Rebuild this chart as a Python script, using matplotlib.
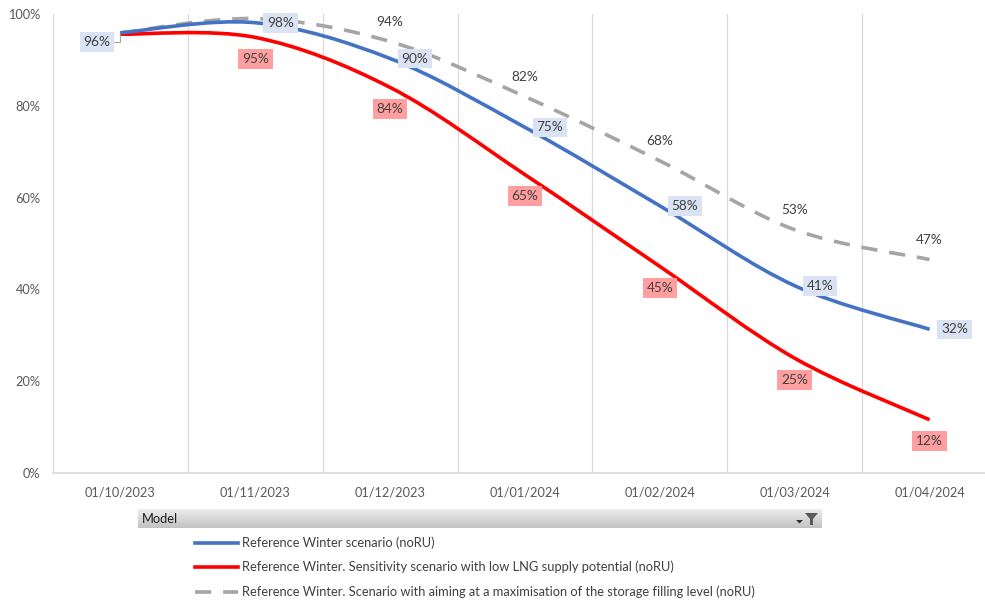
import numpy as np
import matplotlib
matplotlib.use("Agg")
import matplotlib.pyplot as plt
from matplotlib.path import Path
from matplotlib.patches import PathPatch, Polygon
from matplotlib.lines import Line2D

plt.rcParams['font.family'] = ['Lato', 'DejaVu Sans']

# data
dates = ["01/10/2023", "01/11/2023", "01/12/2023", "01/01/2024",
         "01/02/2024", "01/03/2024", "01/04/2024"]
blue_vals = [95.9, 98.1, 90.3, 75.3, 58.2, 40.8, 31.3]
red_vals = [95.6, 94.9, 84.0, 65.0, 45.0, 25.0, 11.6]
gray_vals = [95.9, 99.0, 94.0, 82.0, 68.0, 53.0, 46.5]
labels_blue = ["96%", "98%", "90%", "75%", "58%", "41%", "32%"]
labels_red = ["", "95%", "84%", "65%", "45%", "25%", "12%"]
labels_gray = ["", "", "94%", "82%", "68%", "53%", "47%"]
legend_names = ["Reference Winter scenario (noRU)",
                "Reference Winter. Sensitivity scenario with low LNG supply potential (noRU)",
                "Reference Winter. Scenario with aiming at a maximisation of the storage filling level (noRU)"]

BLUE = "#4472C4"
RED = "#FF0000"
GRAY = "#A5A5A5"
TXT = "#404040"
DASH = (0, (4.5, 3.3))


def smooth_path(xs, ys):
    # Excel style smoothed line: Catmull-Rom segments as cubic Bezier
    pts = np.column_stack([xs, ys]).astype(float)
    n = len(pts)
    verts = [pts[0]]
    codes = [Path.MOVETO]
    for i in range(n - 1):
        p0 = pts[i - 1] if i > 0 else pts[i]
        p1 = pts[i]
        p2 = pts[i + 1]
        p3 = pts[i + 2] if i + 2 < n else pts[i + 1]
        c1 = p1 + (p2 - p0) / 6.0
        c2 = p2 - (p3 - p1) / 6.0
        verts += [c1, c2, p2]
        codes += [Path.CURVE4] * 3
    return Path(verts, codes)


W, H = 985, 603
fig = plt.figure(figsize=(W / 100, H / 100), dpi=100)
ax = fig.add_axes([53 / W, 1 - 473 / H, (997 - 53) / W, (473 - 14) / H])

x = np.arange(len(dates))
ax.set_xlim(-0.5, len(dates) - 0.5)
ax.set_ylim(0, 100)

# vertical gridlines between categories
for b in np.arange(-0.5, len(dates), 1.0):
    ax.axvline(b, color="#D9D9D9", lw=0.9, zorder=0)

for s in ["top", "right", "left"]:
    ax.spines[s].set_visible(False)
ax.spines["bottom"].set_color("#D9D9D9")
ax.spines["bottom"].set_linewidth(1.2)

ax.set_xticks(x)
ax.set_xticklabels(dates)
ax.set_yticks(np.arange(0, 101, 20))
ax.set_yticklabels([f"{v}%" for v in range(0, 101, 20)])
ax.tick_params(axis="both", length=0, labelsize=9.2, labelcolor="#595959")
ax.tick_params(axis="x", pad=10)
ax.tick_params(axis="y", pad=9)

series = [
    (blue_vals, BLUE, "solid"),
    (red_vals, RED, "solid"),
    (gray_vals, GRAY, DASH),
]
for k in [2, 1, 0]:
    vals, col, ls = series[k]
    patch = PathPatch(smooth_path(x, vals), facecolor="none", edgecolor=col,
                      lw=2.6, linestyle=ls, capstyle="butt", zorder=3 + (2 - k))
    ax.add_patch(patch)

# data labels
FS = 9.8
for i, lab in enumerate(labels_gray):
    if lab:
        ax.annotate(lab, (x[i], gray_vals[i]), xytext=(0, 14), textcoords="offset points",
                    ha="center", va="center", fontsize=FS, color=TXT, zorder=6)
for i, lab in enumerate(labels_red):
    if lab:
        ax.annotate(lab, (x[i], red_vals[i]), xytext=(0, -15.5), textcoords="offset points",
                    ha="center", va="center", fontsize=FS, color=TXT, zorder=7,
                    bbox=dict(boxstyle="square,pad=0.28", fc="#FF9F9F", ec="none"))
for i, lab in enumerate(labels_blue):
    if i == 0:
        ax.annotate(lab, (x[i], blue_vals[i]), xytext=(-17, -6.5), textcoords="offset points",
                    ha="center", va="center", fontsize=FS, color=TXT, zorder=8,
                    bbox=dict(boxstyle="square,pad=0.28", fc="#DAE3F3", ec="none"),
                    arrowprops=dict(arrowstyle="-", color="#A6A6A6", lw=0.8,
                                    connectionstyle="angle,angleA=0,angleB=90,rad=0",
                                    shrinkA=0, shrinkB=2))
    else:
        ax.annotate(lab, (x[i], blue_vals[i]), xytext=(18, 0), textcoords="offset points",
                    ha="center", va="center", fontsize=FS, color=TXT, zorder=8,
                    bbox=dict(boxstyle="square,pad=0.28", fc="#DAE3F3", ec="none"))

# "Model" field button bar
bar = fig.add_axes([138 / W, 1 - 528 / H, (822 - 138) / W, 19 / H])
grad = np.linspace(0.93, 0.76, 50).reshape(-1, 1)
bar.imshow(grad, aspect="auto", cmap="gray", vmin=0, vmax=1, extent=[0, 1, 0, 1])
bar.set_xlim(0, 1)
bar.set_ylim(0, 1)
bar.axis("off")
bar.text(4 / 684, 0.45, "Model", ha="left", va="center", fontsize=9.3, color="#1F1F1F")
# filter icon
fx = lambda px: (px - 138) / 684
fy = lambda py: (528 - py) / 19
bar.add_patch(Polygon([(fx(805), fy(513)), (fx(818), fy(513)), (fx(813), fy(519)),
                       (fx(813), fy(525)), (fx(810), fy(525)), (fx(810), fy(519))],
                      closed=True, fc="#5A5A5A", ec="none"))
bar.add_patch(Polygon([(fx(796), fy(520)), (fx(803), fy(520)), (fx(799.5), fy(523.5))],
                      closed=True, fc="#303030", ec="none"))

# legend
leg_y = [543, 567, 592]
styles = [(BLUE, "solid"), (RED, "solid"), (GRAY, DASH)]
for (col, ls), name, py in zip(styles, legend_names, leg_y):
    fig.add_artist(Line2D([195 / W, 238 / W], [1 - py / H, 1 - py / H],
                          color=col, lw=2.6, linestyle=ls, transform=fig.transFigure))
    fig.text(242 / W, 1 - py / H, name, ha="left", va="center", fontsize=9.3, color=TXT)

fig.savefig("out.png", dpi=100)
